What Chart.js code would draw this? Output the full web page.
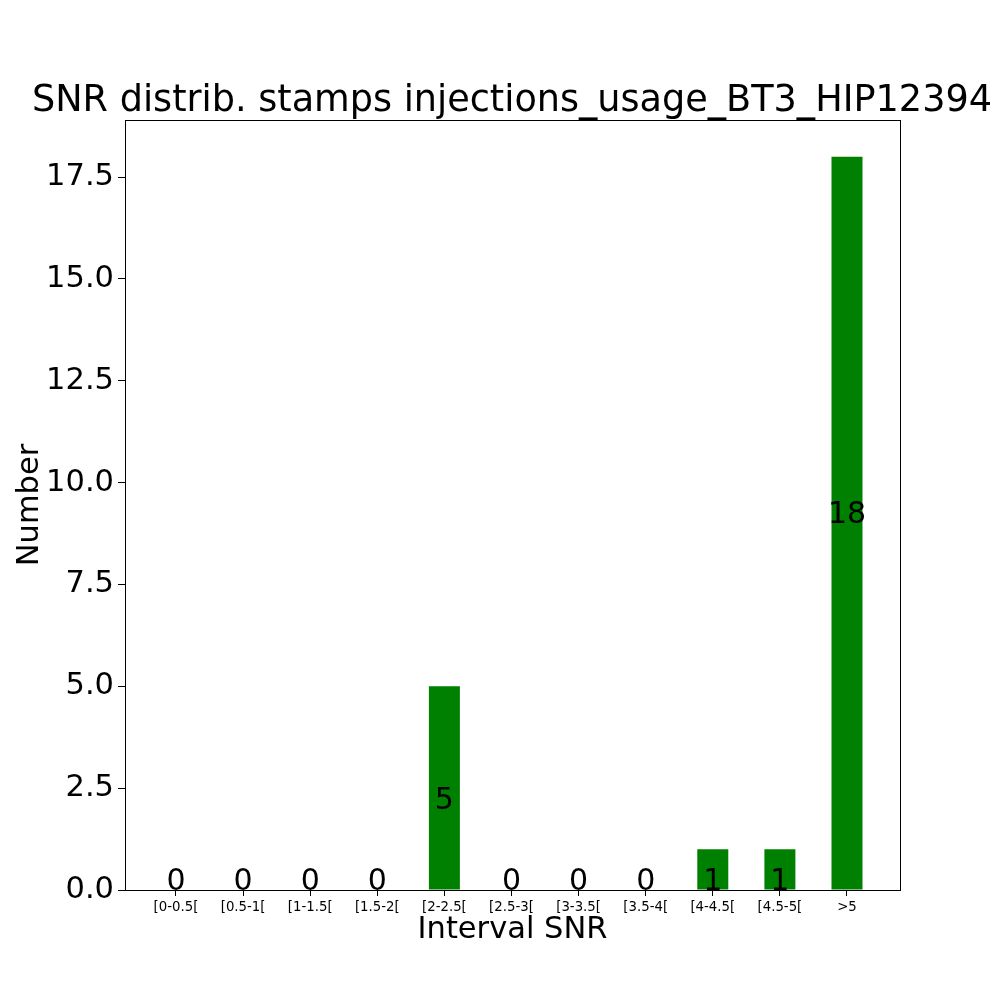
<!DOCTYPE html>
<html>
<head>
<meta charset="utf-8">
<script src="https://cdn.jsdelivr.net/npm/chart.js@4.4.0/dist/chart.umd.min.js"></script>
<style>
  html, body { margin: 0; padding: 0; background: #fff; }
  #wrap { width: 1000px; height: 1000px; }
</style>
</head>
<body>
<div id="wrap"><canvas id="snrChart" width="1000" height="1000"></canvas></div>
<script>
// bins and counts
const intervals = ["[0-0.5[", "[0.5-1[", "[1-1.5[", "[1.5-2[", "[2-2.5[", "[2.5-3[",
                   "[3-3.5[", "[3.5-4[", "[4-4.5[", "[4.5-5[", ">5"];
const counts = [0, 0, 0, 0, 5, 0, 0, 0, 1, 1, 18];
const yTicks = [0, 2.5, 5, 7.5, 10, 12.5, 15, 17.5];

const FONT = "'DejaVu Sans', sans-serif";

// matplotlib-like full frame round the axes
const framePlugin = {
  id: "frame",
  afterLayout(chart) {
    // title box over the axes centre; its width also caps the text width
    if (chart.titleBlock) {
      chart.titleBlock.left = 32;
      chart.titleBlock.right = 992;
    }
  },
  afterDraw(chart) {
    const { ctx, chartArea: a } = chart;
    ctx.save();
    ctx.strokeStyle = "#000";
    ctx.lineWidth = 1;
    ctx.strokeRect(Math.round(a.left) + 0.5, Math.round(a.top) + 0.5,
      Math.round(a.right - a.left), Math.round(a.bottom - a.top));
    ctx.restore();
  },
};

// count label on each bar, baseline at floor(count / 2)
const countLabels = {
  id: "countLabels",
  afterDatasetsDraw(chart) {
    const { ctx, scales } = chart;
    ctx.save();
    ctx.font = "30px " + FONT;
    ctx.fillStyle = "#000";
    ctx.textAlign = "center";
    ctx.textBaseline = "alphabetic";
    counts.forEach((v, i) => {
      const x = scales.x.getPixelForValue(i);
      const y = scales.y.getPixelForValue(Math.floor(v / 2));
      ctx.fillText(String(v), x, y);
    });
    ctx.restore();
  },
};

const data = {
  datasets: [
    {
      label: "Number",
      backgroundColor: "#008000",
      borderWidth: 0,
      inflateAmount: 0,
      barThickness: 31,
      data: counts.map((v, i) => ({ x: i, y: v })),
    },
  ],
};

const config = {
  type: "bar",
  data: data,
  options: {
    responsive: false,
    animation: false,
    layout: { padding: { left: 0, right: 0, top: 0, bottom: 0 } },
    scales: {
      x: {
        type: "linear",
        offset: false,
        min: -0.76,
        max: 10.79,
        afterBuildTicks(scale) {
          scale.ticks = intervals.map((_, i) => ({ value: i }));
        },
        afterFit(scale) {
          scale.height = 110;
        },
        grid: {
          offset: false,
          drawOnChartArea: false,
          drawTicks: true,
          tickLength: 6,
          color: "#000",
        },
        border: { display: true, color: "#000", width: 1 },
        ticks: {
          autoSkip: false,
          maxRotation: 0,
          color: "#000",
          padding: 4,
          font: { family: FONT, size: 13.3 },
          callback: (value) => intervals[value],
        },
        title: {
          display: true,
          text: "Interval SNR",
          color: "#000",
          font: { family: FONT, size: 30.5 },
          padding: { top: 0, bottom: 52 },
        },
      },
      y: {
        min: 0,
        max: 18.9,
        afterBuildTicks(scale) {
          scale.ticks = yTicks.map((v) => ({ value: v }));
        },
        afterFit(scale) {
          scale.width = 125;
        },
        grid: {
          drawOnChartArea: false,
          drawTicks: true,
          tickLength: 7,
          color: "#000",
        },
        border: { display: true, color: "#000", width: 1 },
        ticks: {
          color: "#000",
          padding: 4,
          font: { family: FONT, size: 30.5 },
          callback: (value) => value.toFixed(1),
        },
        title: {
          display: true,
          text: "Number",
          color: "#000",
          font: { family: FONT, size: 30.5 },
          padding: { top: 12, bottom: 0 },
        },
      },
      // empty right-hand axis that only reserves the right margin
      yRight: {
        position: "right",
        min: 0,
        max: 1,
        afterFit(scale) {
          scale.width = 100;
        },
        grid: { display: false },
        border: { display: false },
        ticks: { display: false },
      },
    },
    plugins: {
      legend: { display: false },
      tooltip: { enabled: false },
      title: {
        display: true,
        text: "SNR distrib. stamps injections_usage_BT3_HIP12394",
        color: "#000",
        font: { family: FONT, size: 37.5, weight: "normal", lineHeight: 1 },
        padding: { top: 82.5, bottom: 0 },
      },
    },
  },
  plugins: [framePlugin, countLabels],
};

const snrChart = new Chart(document.getElementById("snrChart"), config);
</script>
</body>
</html>
